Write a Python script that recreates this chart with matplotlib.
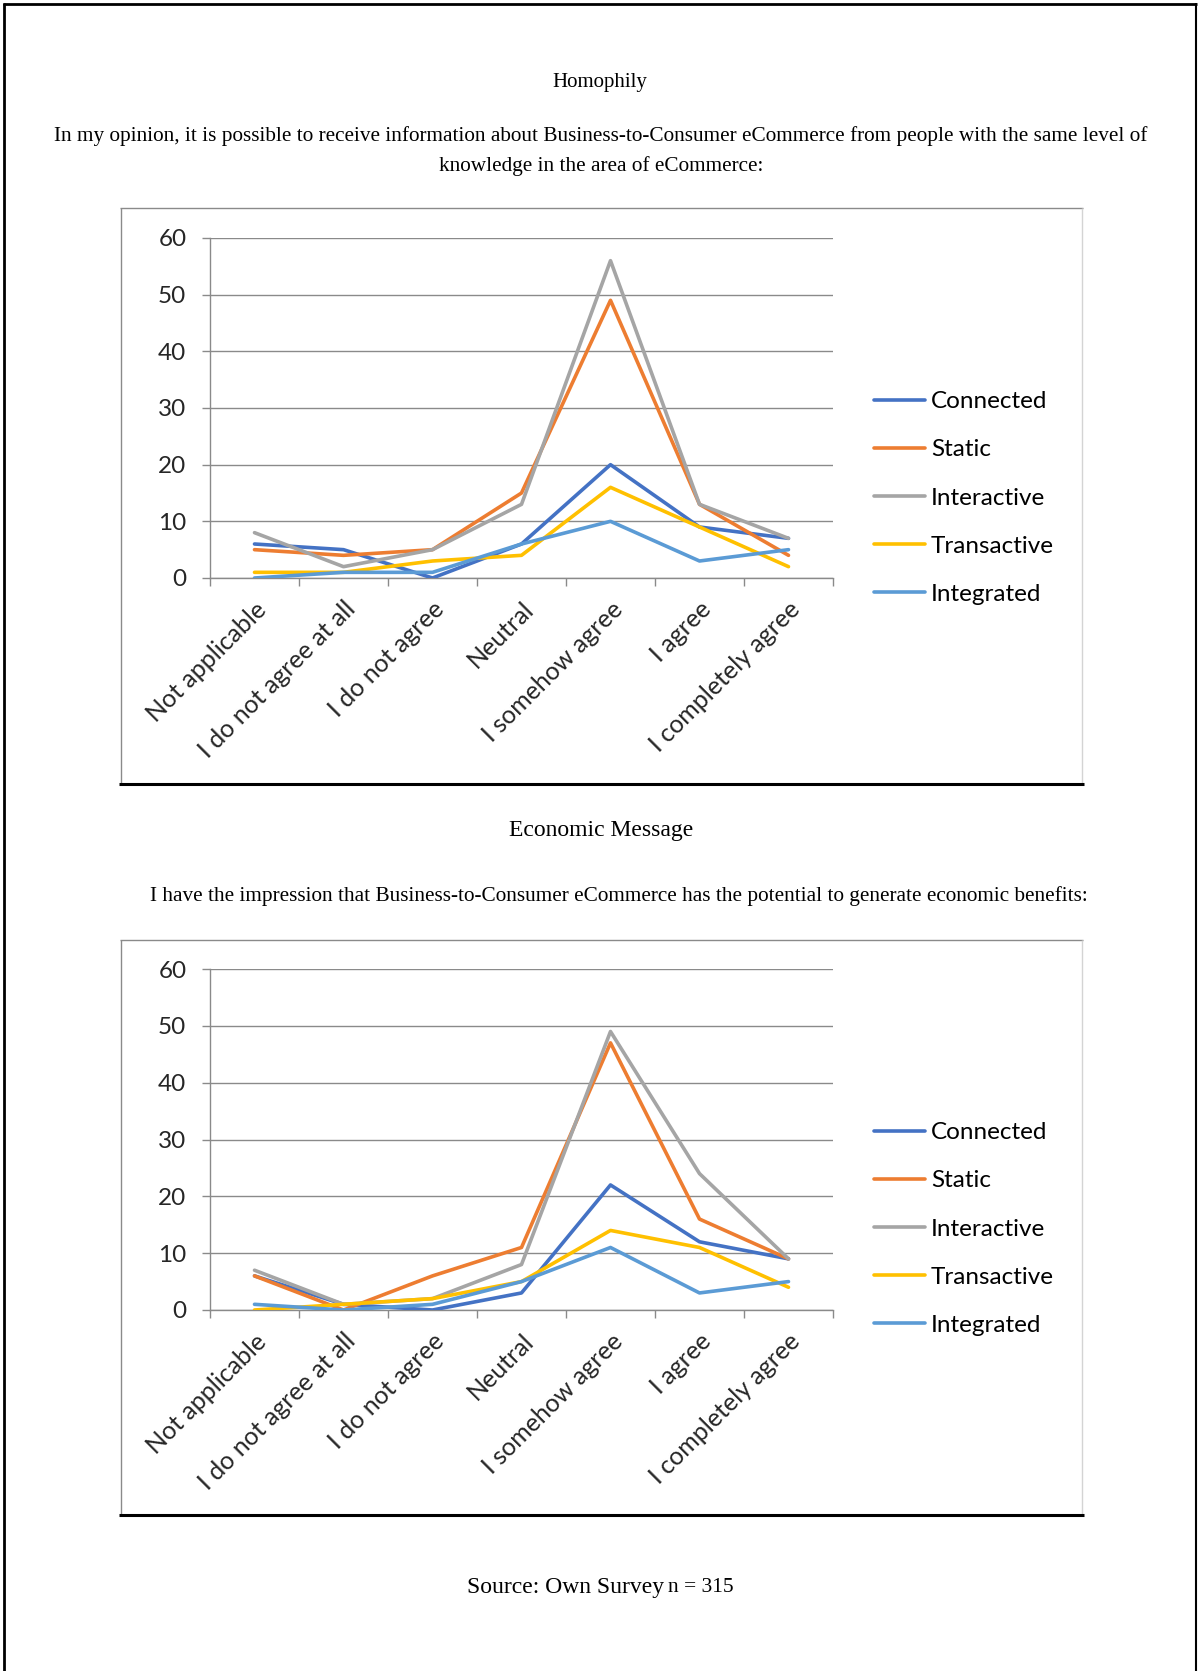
import matplotlib
matplotlib.use("Agg")
import matplotlib.pyplot as plt
from matplotlib.lines import Line2D

# page size in pixels (dpi 100)
W, H = 1198, 1671

categories = ["Not applicable", "I do not agree at all", "I do not agree",
              "Neutral", "I somehow agree", "I agree", "I completely agree"]
series_names = ["Connected", "Static", "Interactive", "Transactive", "Integrated"]
series_colors = ["#4472C4", "#ED7D31", "#A5A5A5", "#FFC000", "#5B9BD5"]

# Homophily
homophily_connected = [6, 5, 0, 6, 20, 9, 7]
homophily_static = [5, 4, 5, 15, 49, 13, 4]
homophily_interactive = [8, 2, 5, 13, 56, 13, 7]
homophily_transactive = [1, 1, 3, 4, 16, 9, 2]
homophily_integrated = [0, 1, 1, 6, 10, 3, 5]

# Economic Message
economic_connected = [6, 1, 0, 3, 22, 12, 9]
economic_static = [6, 0, 6, 11, 47, 16, 9]
economic_interactive = [7, 1, 2, 8, 49, 24, 9]
economic_transactive = [0, 1, 2, 5, 14, 11, 4]
economic_integrated = [1, 0, 1, 5, 11, 3, 5]

y_ticks = [0, 10, 20, 30, 40, 50, 60]

SERIF = "Liberation Serif"
SANS = "Lato"


def fx(px):
    return px / W


def fy(py):
    return 1 - py / H


def hline(fig, x0, x1, y, color, lw):
    fig.add_artist(Line2D([fx(x0), fx(x1)], [fy(y), fy(y)], color=color, lw=lw,
                          transform=fig.transFigure, solid_capstyle="butt"))


def vline(fig, x, y0, y1, color, lw):
    fig.add_artist(Line2D([fx(x), fx(x)], [fy(y0), fy(y1)], color=color, lw=lw,
                          transform=fig.transFigure, solid_capstyle="butt"))


def draw_chart(fig, series, box_top, box_bottom, y_top, y_bottom, legend_y):
    # chart frame as it sits on the page
    vline(fig, 121, box_top, box_bottom, "#8a8a8a", 1.0)
    hline(fig, 120, 1083, box_top, "#8a8a8a", 1.0)
    vline(fig, 1082, box_top, box_bottom, "#d4d4d4", 1.0)
    hline(fig, 119, 1084, box_bottom, "black", 2.2)

    x_left, x_right = 210, 833
    ax = fig.add_axes([fx(x_left), fy(y_bottom), fx(x_right) - fx(x_left),
                       fy(y_top) - fy(y_bottom)])
    xs = list(range(len(categories)))
    for name, color, vals in zip(series_names, series_colors, series):
        ax.plot(xs, vals, color=color, lw=2.6, label=name,
                solid_joinstyle="round", solid_capstyle="round", zorder=3)

    ax.set_xlim(-0.5, len(categories) - 0.5)
    ax.set_ylim(0, 60)
    ax.set_yticks(y_ticks)
    ax.set_yticklabels([str(v) for v in y_ticks], fontsize=17.5, family=SANS,
                       color="#262626")
    ax.tick_params(axis="y", length=6, width=1, color="#8a8a8a", pad=11)
    ax.grid(axis="y", color="#8a8a8a", lw=1)
    ax.set_axisbelow(True)

    ax.set_xticks(xs)
    ax.set_xticklabels(categories, rotation=45, ha="right", va="top",
                       rotation_mode="anchor", fontsize=18, family=SANS,
                       color="#262626")
    ax.tick_params(axis="x", which="major", length=0, pad=14)
    ax.set_xticks([x - 0.5 for x in range(len(categories) + 1)], minor=True)
    ax.tick_params(axis="x", which="minor", length=6, width=1, color="#8a8a8a")

    for side in ("top", "right"):
        ax.spines[side].set_visible(False)
    for side in ("left", "bottom"):
        ax.spines[side].set_color("#8a8a8a")
        ax.spines[side].set_linewidth(1)

    ax.legend(loc="center left", bbox_to_anchor=(fx(874), fy(legend_y)),
              bbox_transform=fig.transFigure, frameon=False, borderpad=0,
              borderaxespad=0, handlelength=2.1, handletextpad=0.25,
              labelspacing=1.12, prop={"family": SANS, "size": 17.5})
    return ax


fig = plt.figure(figsize=(W / 100, H / 100), dpi=100)

# page border
hline(fig, 3, 1197, 4, "black", 2.0)
vline(fig, 4, 3, H, "black", 2.0)
vline(fig, 1196, 3, H, "black", 1.5)

fig.text(fx(600), fy(82), "Homophily", ha="center", va="center",
         family=SERIF, fontsize=15)
fig.text(fx(601), fy(136),
         "In my opinion, it is possible to receive information about "
         "Business-to-Consumer eCommerce from people with the same level of",
         ha="center", va="center", family=SERIF, fontsize=15.3)
fig.text(fx(601), fy(166), "knowledge in the area of eCommerce:",
         ha="center", va="center", family=SERIF, fontsize=15.3)

draw_chart(fig,
           [homophily_connected, homophily_static, homophily_interactive,
            homophily_transactive, homophily_integrated],
           box_top=208, box_bottom=784, y_top=238, y_bottom=578, legend_y=498)

fig.text(fx(601), fy(830), "Economic Message", ha="center", va="center",
         family=SERIF, fontsize=17)
fig.text(fx(619), fy(896),
         "I have the impression that Business-to-Consumer eCommerce has the "
         "potential to generate economic benefits:",
         ha="center", va="center", family=SERIF, fontsize=15.3)

draw_chart(fig,
           [economic_connected, economic_static, economic_interactive,
            economic_transactive, economic_integrated],
           box_top=940, box_bottom=1515, y_top=969, y_bottom=1310, legend_y=1229)

fig.text(fx(467), fy(1587), "Source: Own Survey", ha="left", va="center",
         family=SERIF, fontsize=17)
fig.text(fx(668), fy(1588), "n = 315", ha="left", va="center",
         family=SERIF, fontsize=15.5)

fig.savefig("out.png", dpi=100)
